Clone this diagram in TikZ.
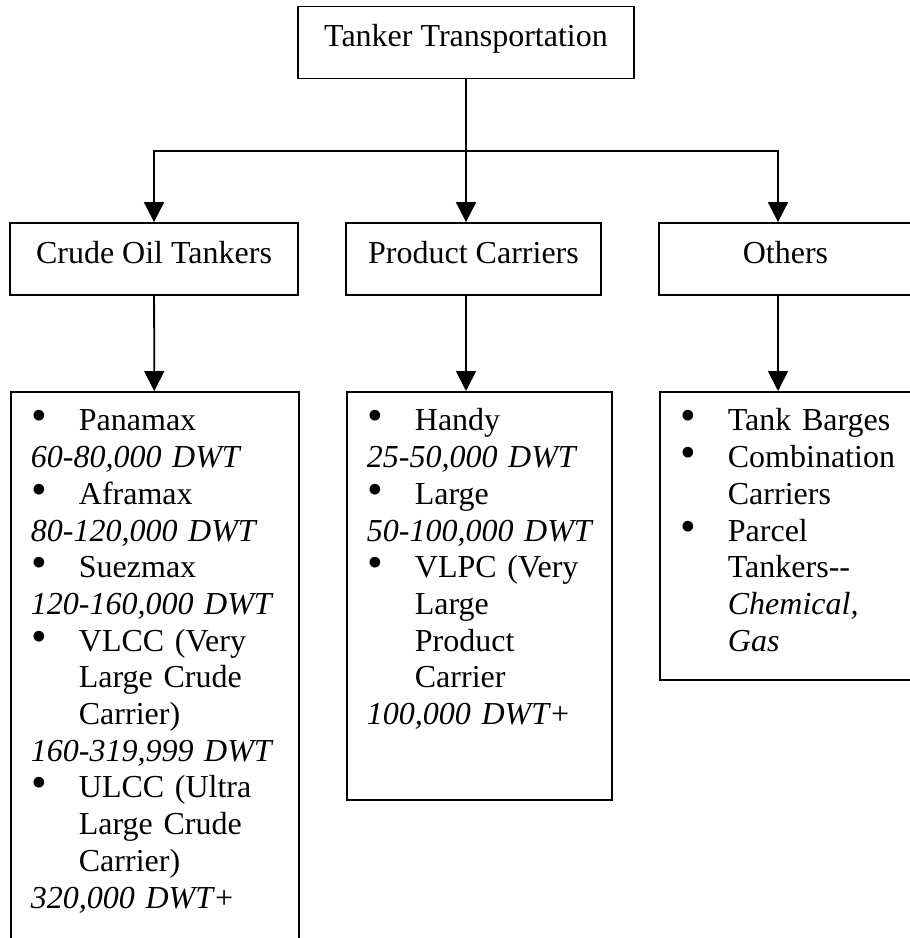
\documentclass[tikz,border=0pt]{standalone}
\usepackage{fontspec}
\setmainfont{Liberation Serif}
\usetikzlibrary{
    arrows.meta,
    positioning
}

\newcommand{\bul}{\hspace*{1pt}\makebox[47pt][l]{\scalebox{1.4}{\textbullet}}}
\newcommand{\ind}{\hspace*{48pt}}
\newcommand{\dwt}[1]{\mbox{\textit{#1}}}

\tikzset{
    box/.style={draw, line width=1.8pt, minimum height=72pt, inner sep=0pt, text height=22pt, text depth=14pt},
    listbox/.style={draw, line width=1.8pt, anchor=north west, inner xsep=20pt, inner ysep=0pt, align=left, text height=39pt},
    link/.style={line width=1.8pt, -{Triangle[length=20pt, width=20pt]}}
}

\begin{document}
\begin{tikzpicture}[x=1pt, y=1pt, font=\fontsize{32pt}{36.7pt}\selectfont]
                        \useasboundingbox (0, 0) rectangle (910, -938);
                        \node[box, minimum width=336pt] (tanker) at (466, -42.5) {Tanker Transportation};
                        \node[box, minimum width=288pt] (crude) at (154, -259) {Crude Oil Tankers};
                        \node[box, minimum width=255pt] (product) at (473.5, -259) {Product Carriers};
                        \node[box, minimum width=253pt] (others) at (785.5, -259) {Others};

                        \node[listbox, text width=248pt, text depth=530pt] (crudelist) at (10, -391) {%
                            \bul Panamax\\
                            \dwt{60-80,000 DWT}\\
                            \bul Aframax\\
                            \dwt{80-120,000 DWT}\\
                            \bul Suezmax\\
                            \dwt{120-160,000 DWT}\\
                            \bul VLCC (Very\\
                            \ind Large Crude\\
                            \ind Carrier)\\
                            \dwt{160-319,999 DWT}\\
                            \bul ULCC (Ultra\\
                            \ind Large Crude\\
                            \ind Carrier)\\
                            \dwt{320,000 DWT+}};
                        \node[listbox, text width=225pt, text depth=369pt] (productlist) at (346, -391) {%
                            \bul Handy\\
                            \dwt{25-50,000 DWT}\\
                            \bul Large\\
                            \dwt{50-100,000 DWT}\\
                            \bul VLPC (Very\\
                            \ind Large\\
                            \ind Product\\
                            \ind Carrier\\
                            \dwt{100,000 DWT+}};
                        \node[listbox, text width=213pt, text depth=249pt] (otherslist) at (659, -391) {%
                            \bul Tank Barges\\
                            \bul Combination\\
                            \ind Carriers\\
                            \bul Parcel\\
                            \ind Tankers{-}{-}\\
                            \ind\textit{Chemical,}\\
                            \ind\textit{Gas}};

                        % arrow columns
                        \coordinate (fork) at (466, -151);
                        \coordinate (right) at (778, -151);
                        \draw[line width=1.8pt] (tanker) -- (fork);
                        \draw[link] (fork) -| (crude);
                        \draw[link] (tanker) -- (product.north -| fork);
                        \draw[link] (fork) -- (right) -- (others.north -| right);

                        \draw[link] (crude) -- (crudelist);
                        \draw[link] (product.south -| fork) -- (productlist.north -| fork);
                        \draw[link] (others.south -| right) -- (otherslist.north -| right);
                    \end{tikzpicture}
\end{document}
